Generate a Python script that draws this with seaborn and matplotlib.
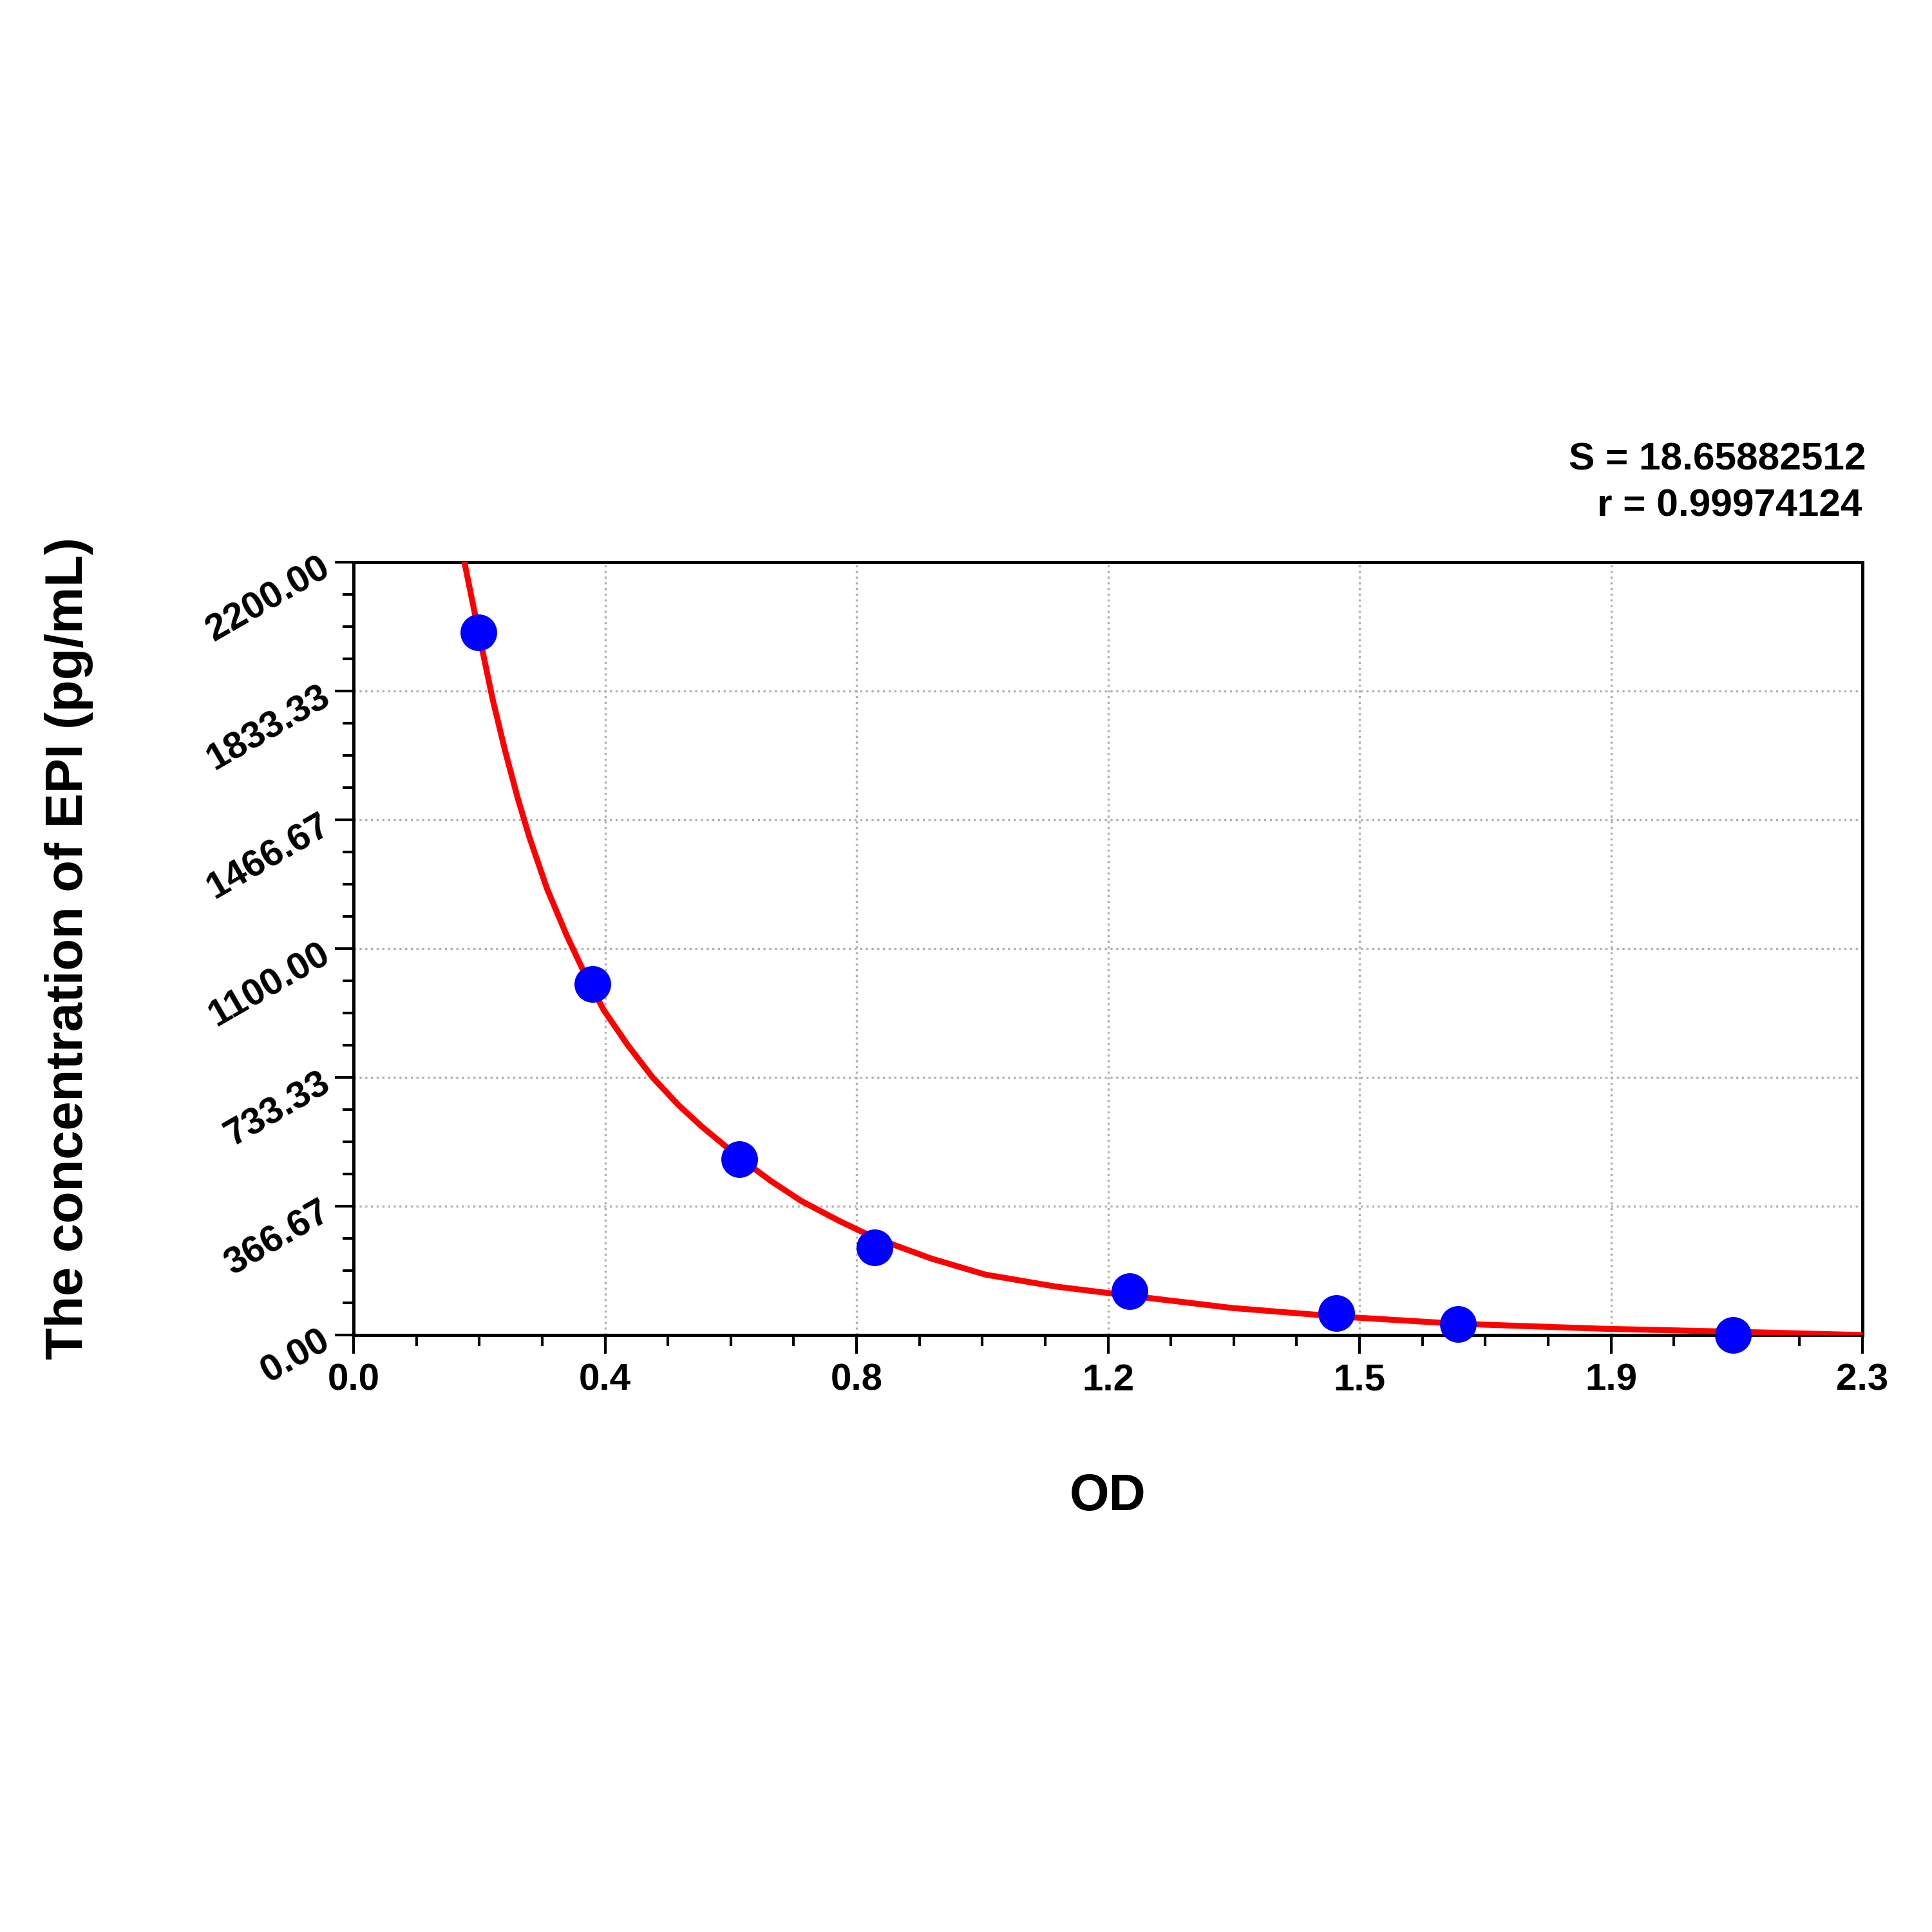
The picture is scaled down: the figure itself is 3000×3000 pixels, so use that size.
import matplotlib
matplotlib.use("Agg")
import matplotlib.pyplot as plt
import seaborn as sns
import numpy as np
import pandas as pd
from matplotlib.ticker import MultipleLocator

sns.set_style("white")
plt.rcParams['font.family'] = ['Liberation Sans', 'DejaVu Sans']
plt.rcParams['text.color'] = 'black'
plt.rcParams['axes.labelcolor'] = 'black'
plt.rcParams['xtick.color'] = 'black'
plt.rcParams['ytick.color'] = 'black'

od_points = [0.190, 0.364, 0.588, 0.794, 1.183, 1.498, 1.684, 2.103]
conc_points = [2000, 1000, 500, 250, 125, 62.5, 31.25, 0]
curve_od = [0.169, 0.193, 0.212, 0.231, 0.250, 0.268, 0.295, 0.325, 0.352, 0.381, 0.418,
            0.456, 0.495, 0.531, 0.588, 0.635, 0.682, 0.740, 0.794, 0.880, 0.963, 1.070,
            1.183, 1.339, 1.498, 1.684, 1.902, 2.090, 2.300]
curve_conc = [2200, 1979, 1810, 1663, 1530, 1417, 1270, 1137, 1030, 926, 825,
              733, 655, 593, 505, 440, 382, 325, 277, 218, 172, 138,
              112, 77, 53, 32, 18, 10, 0]
xtick_labels = ["0.0", "0.4", "0.8", "1.2", "1.5", "1.9", "2.3"]
ytick_labels = ["0.00", "366.67", "733.33", "1100.00", "1466.67", "1833.33", "2200.00"]

fig = plt.figure(figsize=(10, 10), dpi=300)
ax = fig.add_axes([0.183, 0.309, 0.781, 0.400])
sns.lineplot(x=curve_od, y=curve_conc, ax=ax, color="red", lw=2.2, zorder=3)
sns.scatterplot(x=od_points, y=conc_points, ax=ax, color="blue", s=160, edgecolor="blue", zorder=4, clip_on=False)

ax.set_xlim(0, 2.3)
ax.set_ylim(0, 2200)
xt = np.linspace(0, 2.3, 7)
yt = np.linspace(0, 2200, 7)
ax.set_xticks(xt)
ax.set_xticklabels(xtick_labels, fontsize=14, fontweight="bold")
ax.set_yticks(yt)
ax.set_yticklabels(ytick_labels, fontsize=14, fontweight="bold", rotation=30, ha="right", rotation_mode="anchor")
ax.xaxis.set_minor_locator(MultipleLocator(2.3 / 24))
ax.yaxis.set_minor_locator(MultipleLocator(2200 / 24))
ax.tick_params(axis="both", which="major", direction="out", length=7, width=1, bottom=True, left=True)
ax.tick_params(axis="both", which="minor", direction="out", length=4, width=1, bottom=True, left=True)
ax.grid(True, which="major", color="#b0b0b0", linestyle=":", lw=0.8)
for s in ax.spines.values():
    s.set_color("black"); s.set_linewidth(1.2)
ax.set_xlabel("OD", fontsize=19, fontweight="bold", labelpad=28)
ax.set_ylabel("The concentration of EPI (pg/mL)", fontsize=19.5, fontweight="bold", labelpad=40)
fig.text(0.966, 0.757, "S = 18.65882512", ha="right", fontsize=14.5, fontweight="bold")
fig.text(0.964, 0.733, "r = 0.99974124", ha="right", fontsize=14.5, fontweight="bold")
fig.savefig("out.png", dpi=300, facecolor="white")
